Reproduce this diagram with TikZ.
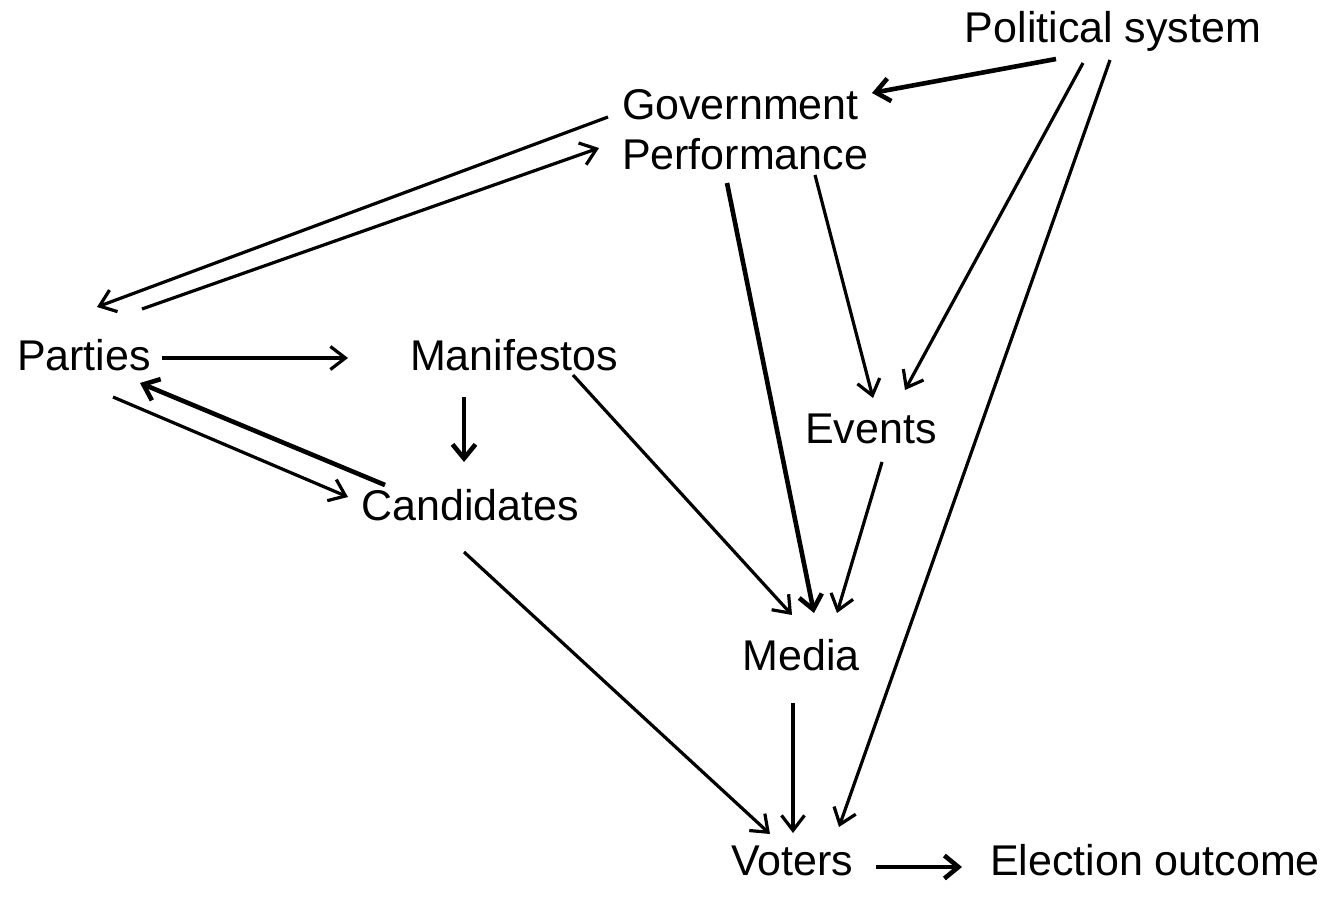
\documentclass[tikz,border=0pt]{standalone}
\usepackage{fontspec}
\setmainfont{Liberation Sans}
\usetikzlibrary{arrows.meta,calc}
\begin{document}
\begin{tikzpicture}[x=1pt,y=-1pt,
  lbl/.style={inner sep=0pt,outer sep=0pt,font=\fontsize{43}{50}\selectfont,anchor=base},
  conn/.style={line width=3.2pt,-{Straight Barb[length=15pt,width=23pt]}},
  thickconn/.style={line width=4.6pt,-{Straight Barb[length=14pt,width=23pt]}}]
\useasboundingbox (0,0) rectangle (1327,904);
\node[lbl] (pol) at (1113,43) {Political system};
\node[lbl,anchor=base west,align=left] (gov) at (622,170) {Government\\Performance};
\node[lbl] (parties) at (84,370) {Parties};
\node[lbl] (manif) at (514,370) {Manifestos};
\node[lbl] (events) at (871,443) {Events};
\node[lbl] (cand) at (470,520) {Candidates};
\node[lbl] (media) at (801,670) {Media};
\node[lbl] (voters) at (792,875) {Voters};
\node[lbl] (elect) at (1155,875) {Election outcome};

\draw[thickconn] ($(pol.base)+(-57,16)$) -- ($(gov.base west)+(250,-77)$);
\draw[conn] ($(gov.base west)+(-14,-53)$) -- ($(parties.base)+(13,-63)$);
\draw[conn] ($(parties.base)+(58,-61)$) -- ($(gov.base west)+(-23,-22)$);
\draw[conn] ($(parties.base)+(78,-12)$) -- ($(manif.base)+(-166,-12)$);
\draw[thickconn] ($(manif.base)+(-50,27)$) -- ($(cand.base)+(-6,-58)$);
\draw[conn] ($(parties.base)+(29,27)$) -- ($(cand.base)+(-122,-23)$);
\draw[thickconn] ($(cand.base)+(-85,-35)$) -- ($(parties.base)+(56,13)$);
\draw[conn] ($(pol.base)+(-30,20)$) -- ($(events.base)+(34,-53)$);
\draw[conn] ($(pol.base)+(-3,17)$) -- ($(voters.base)+(47,-48)$);
\draw[conn] ($(gov.base west)+(193,5)$) -- ($(events.base)+(2,-45)$);
\draw[thickconn] ($(gov.base west)+(105,13)$) -- ($(media.base)+(13,-57)$);
\draw[conn] ($(manif.base)+(59,5)$) -- ($(media.base)+(-9,-55)$);
\draw[conn] ($(events.base)+(11,19)$) -- ($(media.base)+(36,-57)$);
\draw[conn] ($(cand.base)+(-6,32)$) -- ($(voters.base)+(-22,-41)$);
\draw[conn] ($(media.base)+(-8,33)$) -- ($(voters.base)+(1,-42)$);
\draw[thickconn] ($(voters.base)+(84,-8)$) -- ($(elect.base)+(-193,-8)$);
\end{tikzpicture}
\end{document}
